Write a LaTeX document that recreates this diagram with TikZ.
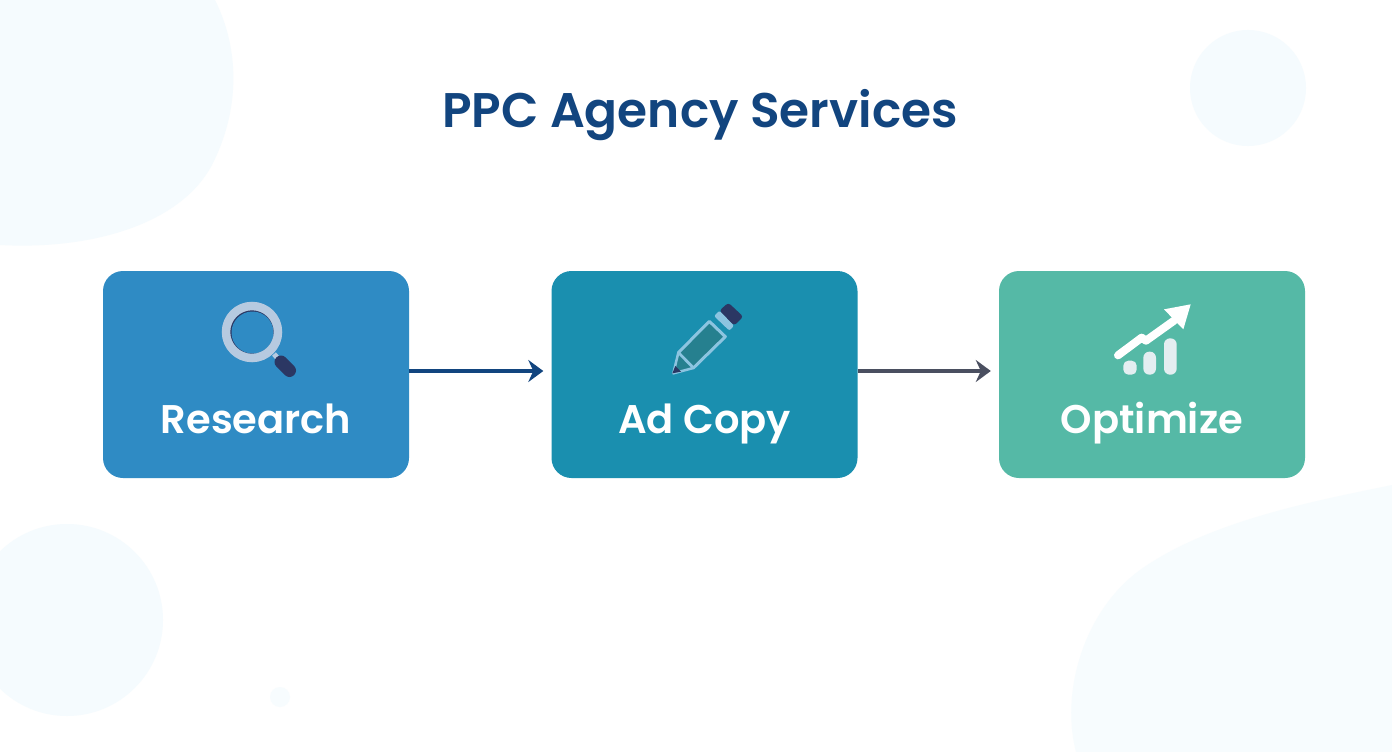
\documentclass[tikz,border=0pt]{standalone}
\usepackage{fontspec}
\setmainfont{Poppins}[BoldFont={Poppins SemiBold}]
\usetikzlibrary{arrows.meta}
\definecolor{blob}{HTML}{F5FBFE}
\definecolor{blobb}{HTML}{F7FCFE}
\definecolor{cA}{HTML}{2F8BC4}
\definecolor{cB}{HTML}{1A8FAF}
\definecolor{cC}{HTML}{55B9A6}
\definecolor{navy}{HTML}{12457F}
\definecolor{slate}{HTML}{4A4F60}
\definecolor{ring}{HTML}{B6CAE0}
\definecolor{dk}{HTML}{2B3763}
\definecolor{lb}{HTML}{8CC4E0}
\definecolor{pb}{HTML}{26808F}
\definecolor{bar}{HTML}{E4EEF1}
\tikzset{
  card/.style={rectangle,rounded corners=20pt,minimum width=306pt,minimum height=207pt,inner sep=0pt,draw=none},
  cardtext/.style={text=white,font=\fontsize{40}{44}\selectfont\bfseries,inner sep=0pt,anchor=base},
  flow/.style={line width=3.6pt,-{Stealth[length=15pt,width=22pt,inset=5pt]},shorten >=8pt},
  tinted/.style={fill=blob,draw=none}
}
\begin{document}
\begin{tikzpicture}[x=1pt,y=-1pt]
\useasboundingbox (0,0) rectangle (1392,752);
\fill[white] (0,0) rectangle (1392,752);
% background shapes
\fill[tinted] (0,0) -- (215,0) .. controls (240,50) and (240,110) .. (212,165)
  .. controls (180,225) and (90,250) .. (0,245) -- cycle;
\fill[tinted] (1248,88) circle[radius=58];
\fill[tinted] (67,620) circle[radius=96];
\fill[blobb] (280,697) circle[radius=10];
\fill[blobb] (1392,485) .. controls (1320,500) and (1210,520) .. (1140,570)
  .. controls (1085,610) and (1060,690) .. (1076,752) -- (1392,752) -- cycle;
% title
\node[text=navy,font=\fontsize{48.6}{54}\selectfont\bfseries,inner sep=0pt,anchor=base] (title) at (700,127) {PPC Agency Services};
% cards
\node[card,fill=cA] (research) at (256,374.5) {};
\node[card,fill=cB] (adcopy) at (704.5,374.5) {};
\node[card,fill=cC] (optimize) at (1152,374.5) {};
\node[cardtext] (lresearch) at (256,433) {Research};
\node[cardtext] (ladcopy) at (704.5,433) {Ad Copy};
\node[cardtext] (loptimize) at (1152,433) {Optimize};
% connectors
\draw[flow,navy] (research.east |- 0,371) coordinate (a1) -- (adcopy.west |- 0,371) coordinate (a2);
\draw[flow,slate] (adcopy.east |- 0,371) coordinate (b1) -- (optimize.west |- 0,371) coordinate (b2);
% magnifier
\draw[ring,line width=5pt] (274,354) -- (281,362);
\draw[dk,line width=13pt,line cap=round] (281,362) -- (289.5,370.5);
\fill[dk] (251,331) circle[radius=23];
\fill[cA] (252.5,332.5) circle[radius=21];
\draw[ring,line width=8.5pt] (252,332) circle[radius=26];
% pencil
\begin{scope}[shift={(640,290)},scale=1/3]
  \fill[dk,rounded corners=3pt] (265,38) -- (310,80) -- (282,107) -- (238,62) -- cycle;
  \fill[lb,rounded corners=2pt] (222,78) -- (238,62) -- (282,107) -- (268,122) -- cycle;
  \filldraw[fill=pb,draw=lb,line width=3pt,line join=round] (208,94) -- (256,140) -- (160,234) -- (115,188) -- cycle;
  \filldraw[fill=pb,draw=lb,line width=2.5pt,line join=round] (115,188) -- (160,234) -- (100,250) -- cycle;
  \fill[dk] (97,250) -- (106,228) -- (123,245) -- cycle;
\end{scope}
% chart
\begin{scope}[shift={(1090,290)},scale=1/3]
  \draw[white,line width=8pt,line cap=round,line join=round] (84,196) -- (155,143) -- (168,152) -- (252,92);
  \fill[white] (222,58) -- (302,43) -- (280,118) -- cycle;
  \fill[bar,rounded corners=5pt] (100,212) rectangle (140,254);
  \fill[bar,rounded corners=6pt] (160,185) rectangle (198,254);
  \fill[bar,rounded corners=6pt] (222,145) rectangle (260,254);
\end{scope}
\end{tikzpicture}
\end{document}
